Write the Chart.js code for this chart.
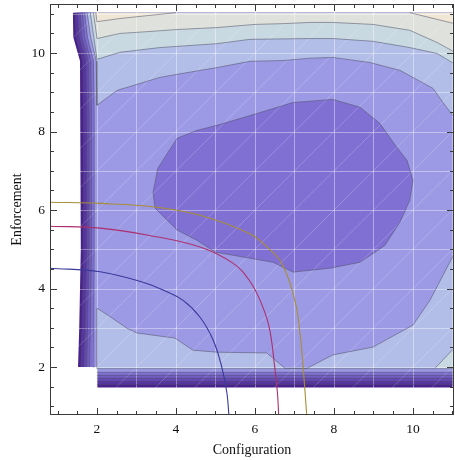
<!DOCTYPE html>
<html>
<head>
<meta charset="utf-8">
<script src="https://cdn.jsdelivr.net/npm/chart.js@4.4.0/dist/chart.umd.min.js"></script>
<style>html,body{margin:0;padding:0;background:#fff}canvas{display:block}</style>
</head>
<body>
<canvas id="plot" width="455" height="460"></canvas>
<script>
/* filled contour plot, Configuration vs Enforcement */
const xTicks=[2,4,6,8,10];
const yTicks=[2,4,6,8,10];
const xTitle='Configuration';
const yTitle='Enforcement';

// contour level colours, lowest to highest
const levelColors=['#48218e','#5634a2','#6448b4','#725dc5','#8070d4','#9c9ae5','#b3bee8','#c9d9e2','#dfe1dc','#efe6d5'];

// data domain edges
const domRight=11.01, domTop=11.03;

// edge bands: left boundary x of each level at these y values, and bottom boundary y
const bandY=[2.0,3.0,5.0,8.5,9.8,10.4,11.03];
const bandX=[
  [1.52,1.55,1.59,1.59,1.57,1.40,1.39],
  [1.59,1.62,1.66,1.66,1.64,1.47,1.45],
  [1.67,1.70,1.74,1.74,1.72,1.55,1.51],
  [1.74,1.76,1.80,1.80,1.78,1.62,1.57],
  [1.81,1.83,1.86,1.86,1.84,1.69,1.63],
  [1.90,1.92,1.93,1.93,1.91,1.76,1.69]
];
const bandBottom=[1.48,1.56,1.64,1.72,1.79,1.87];

// interior contour lines
const lightTop=[[1.75,11.03],[1.84,10.4],[1.98,9.8],[2.0,8.67],[2.51,9.05],[3.59,9.38],[4.03,9.46],[5.04,9.63],[5.87,9.79],[6.71,9.81],[7.39,9.87],[7.97,9.89],[8.91,9.76],[9.67,9.56],[10.51,9.10],[10.76,8.74],[11.01,8.41]];
const lightLow=[[2.0,1.96],[2.0,3.50],[2.28,3.32],[2.76,2.99],[3.01,2.87],[3.59,2.79],[3.97,2.74],[4.43,2.43],[5.04,2.38],[6.30,2.36],[6.76,1.97],[7.32,1.97],[7.97,2.31],[8.99,2.51],[10.0,3.07],[10.43,3.70],[11.01,4.82]];
const lightLowBase=1.96;
const paleTop=[[1.83,11.03],[1.92,10.4],[2.0,9.84],[2.58,10.02],[3.59,10.14],[5.04,10.24],[5.87,10.35],[7.39,10.37],[7.97,10.37],[8.99,10.30],[9.92,10.14],[10.61,9.99],[11.01,9.75]];
const paleCorner=[[10.56,1.97],[11.01,2.45]];
const greyTop=[[1.91,11.03],[1.97,10.6],[2.0,10.37],[2.58,10.50],[3.34,10.55],[4.03,10.60],[5.04,10.65],[6.0,10.73],[6.71,10.75],[7.39,10.78],[7.97,10.78],[8.99,10.73],[9.92,10.58],[10.61,10.27],[11.01,10.05]];
const sandLeft=[[1.97,11.03],[2.0,10.80],[2.58,10.88],[3.34,10.96],[4.0,11.03]];
const sandRight=[[9.92,11.03],[11.01,10.76]];
const blob=[[3.67,7.27],[4.03,7.83],[4.53,8.03],[5.04,8.16],[6.05,8.46],[6.96,8.74],[7.97,8.82],[8.66,8.62],[9.16,8.21],[9.59,7.60],[9.85,7.27],[10.0,6.76],[9.92,6.25],[9.67,5.69],[9.29,5.10],[8.66,4.67],[7.90,4.52],[6.96,4.42],[6.46,4.67],[5.44,4.85],[4.99,4.93],[4.53,5.23],[4.03,5.49],[3.47,6.05],[3.42,6.45],[3.54,7.06]];

// overlaid curves
const curveBlue=[[0.81,4.52],[2.08,4.43],[3.2,4.15],[3.7,3.95],[4.18,3.70],[4.61,3.27],[4.94,2.69],[5.16,2.0],[5.29,1.34],[5.34,0.78]];
const curveRed=[[0.81,5.59],[2.08,5.54],[3.3,5.36],[4.61,5.06],[5.44,4.65],[5.85,4.22],[6.13,3.70],[6.36,3.02],[6.50,2.0],[6.57,1.34],[6.60,0.78]];
const curveGold=[[0.81,6.20],[2.08,6.17],[3.47,6.08],[4.61,5.87],[5.87,5.40],[6.35,5.02],[6.68,4.64],[7.01,3.70],[7.14,2.87],[7.22,2.0],[7.31,0.78]];

const pts=a=>a.map(p=>({x:p[0],y:p[1]}));
const closed=a=>pts(a.concat([a[0]]));

function bandLeft(k){return bandY.map((y,i)=>[bandX[k][i],y]);}
function bandPoly(k){
  const b=bandBottom[k];
  return [[2.0,b],[domRight,b],[domRight,domTop]].concat(bandLeft(k).reverse(),[[2.0,2.0]]);
}

const fills=[];
for(let k=0;k<bandX.length;k++) fills.push([bandPoly(k),levelColors[k]]);
fills.push([lightTop.concat([[domRight,domTop]]),levelColors[6]]);
fills.push([lightLow.concat([[domRight,lightLowBase]]),levelColors[6]]);
fills.push([paleTop.concat([[domRight,domTop]]),levelColors[7]]);
fills.push([paleCorner.concat([[domRight,1.97]]),levelColors[7]]);
fills.push([greyTop.concat([[domRight,domTop]]),levelColors[8]]);
fills.push([sandLeft,levelColors[9]]);
fills.push([sandRight.concat([[domRight,domTop]]),levelColors[9]]);
fills.push([blob,levelColors[4]]);

const strokes=[];
for(let k=1;k<bandX.length;k++){
  strokes.push(pts(bandLeft(k)));
  strokes.push(pts([[2.0,bandBottom[k]],[domRight,bandBottom[k]]]));
}
strokes.push(pts(lightTop),pts(lightLow),pts([[domRight,lightLowBase],[2.0,lightLowBase]]),
  pts(paleTop),pts(paleCorner),pts(greyTop),pts(sandLeft),pts(sandRight),closed(blob));

const datasets=[];
fills.forEach((f,i)=>datasets.push({data:closed(f[0]),showLine:true,fill:'shape',backgroundColor:f[1],
  borderWidth:0,borderColor:'rgba(0,0,0,0)',pointRadius:0,order:100-i,lastFill:i===fills.length-1}));
strokes.forEach(s=>datasets.push({data:s,showLine:true,fill:false,borderColor:'rgba(80,80,100,0.6)',
  borderWidth:0.9,pointRadius:0,order:20}));
[[curveBlue,'rgb(58,58,155)'],[curveRed,'rgb(172,48,108)'],[curveGold,'rgb(168,142,52)']].forEach(c=>
  datasets.push({data:pts(c[0]),showLine:true,fill:false,borderColor:c[1],borderWidth:1.1,pointRadius:0,
    tension:0.4,order:0}));

const serif='"Liberation Serif","DejaVu Serif",serif';

const overlay={
  id:'overlay',
  afterDatasetDraw(chart,args){
    if(!chart.data.datasets[args.index].lastFill) return;
    const {ctx,chartArea:a,scales:{x,y}}=chart;
    ctx.save();
    ctx.beginPath();ctx.rect(a.left,a.top,a.width,a.height);ctx.clip();
    ctx.strokeStyle='rgba(255,255,255,0.4)';ctx.lineWidth=1;
    ctx.beginPath();
    for(let v=1;v<=11;v++){
      const px=Math.round(x.getPixelForValue(v))+0.5, py=Math.round(y.getPixelForValue(v))+0.5;
      ctx.moveTo(px,a.top);ctx.lineTo(px,a.bottom);
      ctx.moveTo(a.left,py);ctx.lineTo(a.right,py);
    }
    ctx.stroke();
    ctx.strokeStyle='rgba(255,255,255,0.3)';ctx.lineWidth=0.7;
    ctx.beginPath();
    for(let c=-12;c<=12;c++){
      ctx.moveTo(x.getPixelForValue(-1),y.getPixelForValue(-1+c));
      ctx.lineTo(x.getPixelForValue(13),y.getPixelForValue(13+c));
    }
    ctx.stroke();
    ctx.restore();
  },
  afterDraw(chart){
    const {ctx,chartArea:a,scales:{x,y}}=chart;
    ctx.save();
    ctx.strokeStyle='#3a3a3a';ctx.lineWidth=1;
    ctx.strokeRect(a.left+0.5,a.top+0.5,a.width-1,a.height-1);
    ctx.beginPath();
    for(let v=1;v<=11.001;v+=0.5){
      const major=xTicks.includes(v), len=major?7:4;
      const px=Math.round(x.getPixelForValue(v))+0.5;
      if(px>a.left+1&&px<a.right-1){
        ctx.moveTo(px,a.bottom);ctx.lineTo(px,a.bottom-len);
        ctx.moveTo(px,a.top);ctx.lineTo(px,a.top+len);
      }
      const majorY=yTicks.includes(v), lenY=majorY?7:4;
      const py=Math.round(y.getPixelForValue(v))+0.5;
      if(py>a.top+1&&py<a.bottom-1){
        ctx.moveTo(a.left,py);ctx.lineTo(a.left+lenY,py);
        ctx.moveTo(a.right,py);ctx.lineTo(a.right-lenY,py);
      }
    }
    ctx.stroke();
    ctx.restore();
  }
};

new Chart(document.getElementById('plot'),{
  type:'scatter',
  data:{datasets:datasets},
  plugins:[overlay],
  options:{
    responsive:false,animation:false,
    layout:{padding:{top:4,right:1,left:0,bottom:0}},
    plugins:{legend:{display:false},tooltip:{enabled:false}},
    scales:{
      x:{type:'linear',min:0.81,max:11.04,
        afterBuildTicks:s=>{s.ticks=xTicks.map(v=>({value:v}));},
        afterFit:s=>{s.height=45;s.paddingLeft=0;s.paddingRight=0;},
        grid:{display:false,drawTicks:false},border:{display:false},
        ticks:{color:'#111',font:{family:serif,size:13.5},padding:6,maxRotation:0},
        title:{display:true,text:xTitle,color:'#111',font:{family:serif,size:14},padding:{top:0,bottom:1}}},
      y:{type:'linear',min:0.78,max:11.25,
        afterBuildTicks:s=>{s.ticks=yTicks.map(v=>({value:v}));},
        afterFit:s=>{s.width=50;s.paddingTop=0;s.paddingBottom=0;},
        grid:{display:false,drawTicks:false},border:{display:false},
        ticks:{color:'#111',font:{family:serif,size:13.5},padding:5},
        title:{display:true,text:yTitle,color:'#111',font:{family:serif,size:14},padding:{top:9,bottom:0}}}
    }
  }
});
</script>
</body>
</html>
